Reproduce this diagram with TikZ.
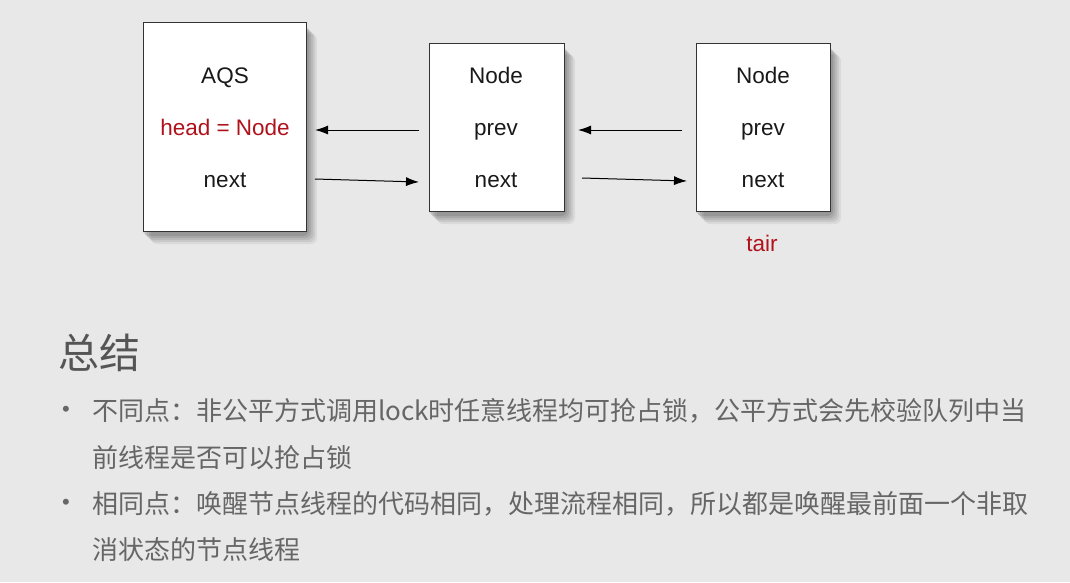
\documentclass[tikz,border=0pt]{standalone}
\usepackage{fontspec}
\setmainfont{Liberation Sans}
\newfontfamily\cjk{Noto Sans CJK SC}
\usetikzlibrary{arrows.meta}
\definecolor{bg}{HTML}{E8E8E8}
\definecolor{redtxt}{HTML}{B0121B}
\definecolor{graytxt}{HTML}{666666}
\definecolor{titletxt}{HTML}{555555}
\tikzset{
  box/.style={draw=black!80, line width=1.1pt, fill=white},
  lbl/.style={anchor=base, font=\fontsize{22.5}{26}\selectfont, text=black!90},
  red/.style={lbl, text=redtxt},
  arr/.style={line width=1pt, -{Latex[length=13pt,width=9pt]}},
  body/.style={anchor=west, font=\cjk\fontsize{26}{30}\selectfont, text=graytxt, inner sep=0pt},
}
\newcommand{\shadowbox}[4]{%
  \foreach \k/\o in {10/0.06,8/0.07,6/0.08,4/0.09,2/0.1}{
    \fill[black, opacity=\o, rounded corners=6pt] (#1+\k-2,#2+\k+2) rectangle (#3+\k+1,#4+\k+3);
  }
}
\begin{document}
\begin{tikzpicture}[x=1pt,y=-1pt]
\fill[bg] (0,0) rectangle (1070,582);
\useasboundingbox (0,0) rectangle (1070,582);
% shadows
\shadowbox{143}{22}{306}{231}
\shadowbox{429}{43}{564}{211}
\shadowbox{696}{43}{830}{211}
% boxes
\node[box, minimum width=163pt, minimum height=209pt, anchor=north west, inner sep=0pt] (aqs) at (143,22) {};
\node[box, minimum width=135pt, minimum height=168pt, anchor=north west, inner sep=0pt] (n1) at (429,43) {};
\node[box, minimum width=134pt, minimum height=168pt, anchor=north west, inner sep=0pt] (n2) at (696,43) {};
% labels
\node[lbl] (aqsT) at (225,83) {AQS};
\node[red] (aqsH) at (225,135) {head = Node};
\node[lbl] (aqsN) at (225,187) {next};
\node[lbl] (n1T) at (496,83) {Node};
\node[lbl] (n1P) at (496,135) {prev};
\node[lbl] (n1N) at (496,187) {next};
\node[lbl] (n2T) at (763,83) {Node};
\node[lbl] (n2P) at (763,135) {prev};
\node[lbl] (n2N) at (763,187) {next};
\node[red] (tail) at (762,251) {tair};
% arrow ends
\coordinate (p1s) at (419,130);
\coordinate (p1e) at (315,130);
\coordinate (x1s) at (315,179);
\coordinate (x1e) at (419,182);
\coordinate (p2s) at (682,130);
\coordinate (p2e) at (578,130);
\coordinate (x2s) at (582,178);
\coordinate (x2e) at (687,181);
\draw[arr] (p1s) -- (p1e);
\draw[arr] (x1s) -- (x1e);
\draw[arr] (p2s) -- (p2e);
\draw[arr] (x2s) -- (x2e);
% summary
\node[anchor=west, inner sep=0pt, font=\cjk\fontsize{41}{46}\selectfont, text=titletxt] (title) at (58,353) {总结};
\node[inner sep=0pt, text=graytxt, font=\fontsize{22}{24}\selectfont] (b1) at (66,411) {•};
\node[inner sep=0pt, text=graytxt, font=\fontsize{22}{24}\selectfont] (b2) at (66,504) {•};
\node[body] (l1) at (92,411) {不同点：非公平方式调用lock时任意线程均可抢占锁，公平方式会先校验队列中当};
\node[body] (l2) at (92,458) {前线程是否可以抢占锁};
\node[body] (l3) at (92,504) {相同点：唤醒节点线程的代码相同，处理流程相同，所以都是唤醒最前面一个非取};
\node[body] (l4) at (92,550) {消状态的节点线程};
\end{tikzpicture}
\end{document}
